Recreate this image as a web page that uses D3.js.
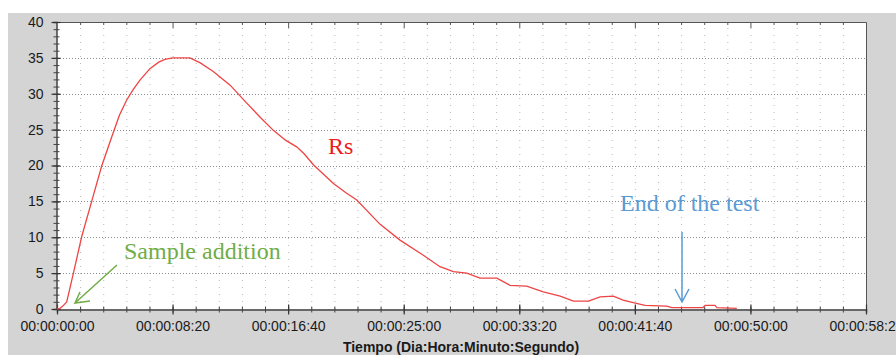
<!DOCTYPE html>
<html>
<head>
<meta charset="utf-8">
<script src="https://cdn.jsdelivr.net/npm/d3@7"></script>
<style>
  body { margin: 0; background: #ffffff; }
  svg { display: block; }
</style>
</head>
<body>
<div id="chart"></div>
<script>
//Width and height
var w = 896;
var h = 355;

//Time in seconds and Rs value
var times = [0, 13, 25, 42, 71, 107, 150, 193, 237, 270, 301, 330, 359, 402, 440, 467, 500, 575,
	620, 676, 749, 821, 880, 936, 990, 1037, 1070, 1109, 1196, 1250, 1297, 1398, 1484, 1585, 1657,
	1715, 1773, 1830, 1903, 1960, 2032, 2104, 2177, 2234, 2299, 2350, 2407, 2449, 2493, 2544, 2638,
	2660, 2795, 2804, 2847, 2855, 2941];
var rs = [0, 0.1, 0.4, 1.0, 5.0, 10.1, 15.0, 19.9, 24.0, 27.0, 29.1, 30.6, 31.9, 33.5, 34.4, 34.8, 35, 35,
	34.3, 33.1, 31.2, 28.7, 26.7, 24.9, 23.5, 22.6, 21.6, 20.1, 17.5, 16.2, 15.2, 11.8, 9.6, 7.5, 5.9,
	5.2, 5.0, 4.3, 4.3, 3.3, 3.2, 2.4, 1.8, 1.1, 1.1, 1.7, 1.8, 1.25, 0.9, 0.5, 0.4,
	0.2, 0.2, 0.5, 0.5, 0.2, 0.1];

var xMajor = [0, 500, 1000, 1500, 2000, 2500, 3000, 3500];
var yMajor = [0, 5, 10, 15, 20, 25, 30, 35, 40];

var margin = { left: 57, right: 866, top: 22, bottom: 309 };

var x = d3.scaleLinear().domain([0, 3500]).range([margin.left, margin.right]);
var y = d3.scaleLinear().domain([0, 40]).range([margin.bottom, margin.top]);

function pad(n) { return (n < 10 ? "0" : "") + n; }
function fmtTime(s) {
	var m = Math.floor(s / 60);
	return "00:00:" + pad(m) + ":" + pad(s % 60);
}

var svg = d3.select("#chart")
	.append("svg")
	.attr("width", w)
	.attr("height", h);

//Gray frame
svg.append("rect")
	.attr("x", 8).attr("y", 13)
	.attr("width", w - 8).attr("height", h - 13)
	.attr("fill", "#d4d4d4");

//Plot area
svg.append("rect")
	.attr("x", margin.left).attr("y", margin.top)
	.attr("width", margin.right - margin.left)
	.attr("height", margin.bottom - margin.top)
	.attr("fill", "#ffffff");

//Vertical dotted grid, every 100 s
svg.append("g").selectAll("line")
	.data(d3.range(100, 3500, 100))
	.enter().append("line")
	.attr("x1", function (d) { return x(d) + 0.5; })
	.attr("x2", function (d) { return x(d) + 0.5; })
	.attr("y1", margin.bottom)
	.attr("y2", margin.top)
	.attr("stroke", "#b8b8b8")
	.attr("stroke-dasharray", "1,6");

//Horizontal dotted grid on major values
svg.append("g").selectAll("line")
	.data(yMajor.slice(1, -1))
	.enter().append("line")
	.attr("x1", margin.left)
	.attr("x2", margin.right)
	.attr("y1", function (d) { return Math.round(y(d)) + 0.5; })
	.attr("y2", function (d) { return Math.round(y(d)) + 0.5; })
	.attr("stroke", "#8c8c8c")
	.attr("stroke-dasharray", "1,2");

//Top and right border
svg.append("path")
	.attr("d", "M" + margin.left + "," + (margin.top + 0.5) + "H" + (margin.right + 0.5) + "V" + margin.bottom)
	.attr("fill", "none")
	.attr("stroke", "#555");

//Top ticks
svg.append("g").selectAll("line")
	.data(d3.range(100, 3500, 100))
	.enter().append("line")
	.attr("x1", function (d) { return x(d) + 0.5; })
	.attr("x2", function (d) { return x(d) + 0.5; })
	.attr("y1", margin.top - (0))
	.attr("y2", function (d) { return margin.top + (d % 500 === 0 ? 6 : 3); })
	.attr("stroke", "#555");

//Bottom axis: minor then major
svg.append("g")
	.attr("transform", "translate(0," + (margin.bottom + 0.5) + ")")
	.call(d3.axisBottom(x).tickValues(d3.range(0, 3501, 100)).tickSize(3).tickFormat(""))
	.call(function (g) {
		g.selectAll(".tick line").attr("y1", -3).attr("stroke", "#444");
		g.select(".domain").attr("stroke", "#444").attr("stroke-width", 1.5);
	});

svg.append("g")
	.attr("transform", "translate(0," + (margin.bottom + 0.5) + ")")
	.call(d3.axisBottom(x).tickValues(xMajor).tickSize(5).tickPadding(7).tickFormat(fmtTime))
	.call(function (g) {
		g.select(".domain").remove();
		g.selectAll(".tick line").attr("y1", -5).attr("stroke", "#333").attr("stroke-width", 1.2);
		g.selectAll(".tick text")
			.attr("fill", "#1a1a1a")
			.style("font-family", "'Liberation Sans', Arial, sans-serif")
			.style("font-size", "14px");
	});

//Left axis: minor then major
svg.append("g")
	.attr("transform", "translate(" + (margin.left - 0.5) + ",0)")
	.call(d3.axisLeft(y).tickValues(d3.range(0, 41, 1)).tickSize(3).tickFormat(""))
	.call(function (g) {
		g.selectAll(".tick line").attr("x1", 3).attr("stroke", "#444");
		g.select(".domain").attr("stroke", "#444").attr("stroke-width", 1.5);
	});

svg.append("g")
	.attr("transform", "translate(" + (margin.left - 0.5) + ",0)")
	.call(d3.axisLeft(y).tickValues(yMajor).tickSize(5).tickPadding(8))
	.call(function (g) {
		g.select(".domain").remove();
		g.selectAll(".tick line").attr("x1", 4).attr("stroke", "#333").attr("stroke-width", 1.2);
		g.selectAll(".tick text")
			.attr("fill", "#1a1a1a")
			.style("font-family", "'Liberation Sans', Arial, sans-serif")
			.style("font-size", "14px");
	});

//Axis title
svg.append("text")
	.attr("x", 461)
	.attr("y", 352)
	.attr("text-anchor", "middle")
	.attr("fill", "#1a1a1a")
	.style("font-family", "'Liberation Sans', Arial, sans-serif")
	.style("font-size", "14px")
	.style("font-weight", "bold")
	.text("Tiempo (Dia:Hora:Minuto:Segundo)");

//Rs line
var line = d3.line()
	.x(function (d, i) { return x(times[i]); })
	.y(function (d) { return y(d); });

svg.append("path")
	.datum(rs)
	.attr("d", line)
	.attr("fill", "none")
	.attr("stroke", "#ee4444")
	.attr("stroke-width", 1.3);

//Annotations
var serif = "'Liberation Serif', 'Times New Roman', serif";

svg.append("text")
	.attr("x", 328).attr("y", 154)
	.attr("fill", "#ee1c1c")
	.style("font-family", serif)
	.style("font-size", "24px")
	.text("Rs");

svg.append("text")
	.attr("x", 124).attr("y", 259)
	.attr("fill", "#70ad47")
	.style("font-family", serif)
	.style("font-size", "24px")
	.text("Sample addition");

svg.append("text")
	.attr("x", 620).attr("y", 211)
	.attr("fill", "#5b9bd5")
	.style("font-family", serif)
	.style("font-size", "24px")
	.text("End of the test");

//Arrows
svg.append("path")
	.attr("d", "M117,265L75,303M80,292L75,303L90,301")
	.attr("fill", "none")
	.attr("stroke", "#70ad47")
	.attr("stroke-width", 1.5);

svg.append("path")
	.attr("d", "M682,232V302M675,289L682,302L689,289")
	.attr("fill", "none")
	.attr("stroke", "#5b9bd5")
	.attr("stroke-width", 1.5);
</script>
</body>
</html>
